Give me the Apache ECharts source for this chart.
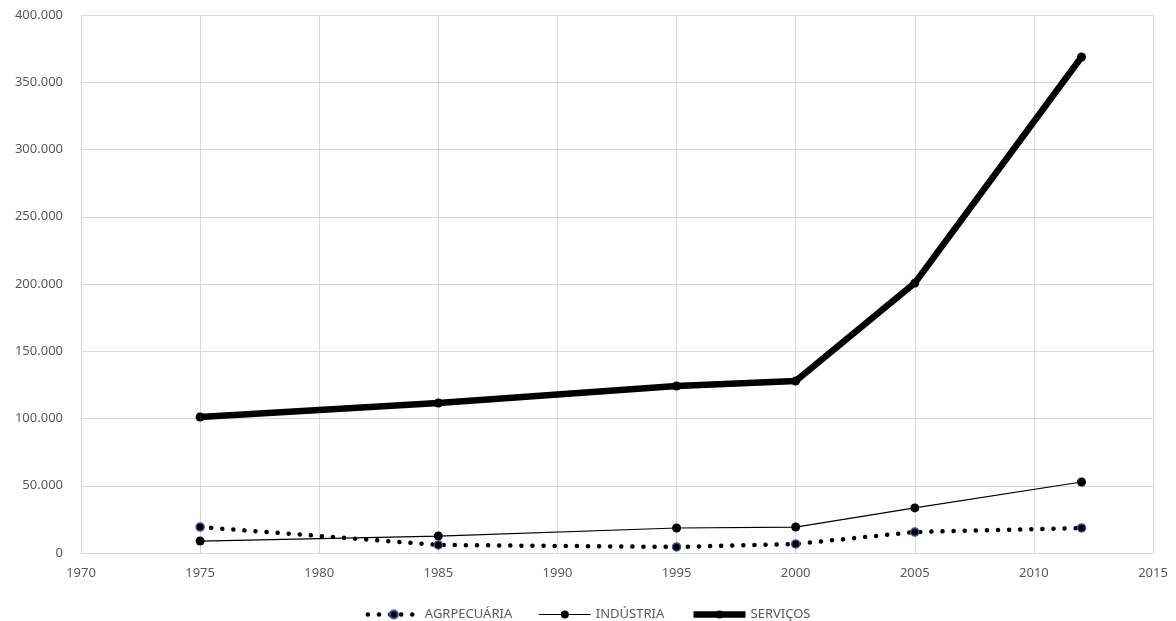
<!DOCTYPE html>
<html lang="pt-BR">
<head>
    <meta charset="UTF-8">
    <title>Setores</title>
    <script src="https://cdn.jsdelivr.net/npm/echarts@6/dist/echarts.min.js"></script>
    <style>
        html, body { margin: 0; padding: 0; background: #fff; }
    </style>
</head>
<body>
    <div id="main" style="width:1176px;height:621px;"></div>
    <script>
    // anos e valores
    var anos = [1975, 1985, 1995, 2000, 2005, 2012];
    var agropecuaria = [19300, 6000, 4500, 6700, 15600, 18600];
    var industria = [8900, 12600, 18600, 19300, 33500, 52800];
    var servicos = [101100, 111500, 124200, 127900, 200700, 368800];

    var cinza = '#595959';
    var grade = '#d9d9d9';
    var fonte = 'Noto Sans, Open Sans, sans-serif';

    function pares(vals) {
        return anos.map(function (a, i) { return [a, vals[i]]; });
    }

    function fmtMilhar(v) {
        if (v === 0) return '0';
        return Math.round(v).toString().replace(/\B(?=(\d{3})+(?!\d))/g, '.');
    }

    // linha pontilhada de pontos redondos
    var pontilhado = { color: '#000', width: 4.5, type: [0.1, 11], cap: 'round' };

    var myChart = echarts.init(document.getElementById('main'));

    var option = {
        backgroundColor: '#fff',
        animation: false,
        textStyle: { fontFamily: fonte },
        grid: { left: 81, right: 23, top: 15, bottom: 68 },
        legend: {
            bottom: 0,
            padding: 0,
            left: 'center',
            itemWidth: 52,
            itemHeight: 10,
            itemGap: 26,
            textStyle: { color: cinza, fontSize: 13, fontFamily: fonte },
            data: [
                { name: 'AGRPECUÁRIA', lineStyle: pontilhado },
                { name: 'INDÚSTRIA', lineStyle: { width: 1.2, color: '#000' } },
                { name: 'SERVIÇOS', lineStyle: { width: 6.5, color: '#000' } }
            ]
        },
        xAxis: {
            type: 'value',
            min: 1970,
            max: 2015,
            interval: 5,
            axisLine: { show: true, lineStyle: { color: grade } },
            axisTick: { show: false },
            splitLine: { show: true, lineStyle: { color: grade } },
            axisLabel: { color: cinza, fontSize: 13, margin: 14, formatter: function (v) { return String(v); } }
        },
        yAxis: {
            type: 'value',
            min: 0,
            max: 400000,
            interval: 50000,
            axisLine: { show: true, lineStyle: { color: grade } },
            axisTick: { show: false },
            splitLine: { show: true, lineStyle: { color: grade } },
            axisLabel: { color: cinza, fontSize: 13, margin: 18, formatter: fmtMilhar }
        },
        series: [
            {
                name: 'AGRPECUÁRIA',
                type: 'line',
                data: pares(agropecuaria),
                symbol: 'circle',
                symbolSize: 8,
                itemStyle: { color: '#000', borderColor: '#2f5597', borderWidth: 1.5 },
                lineStyle: pontilhado,
                z: 3
            },
            {
                name: 'INDÚSTRIA',
                type: 'line',
                data: pares(industria),
                symbol: 'circle',
                symbolSize: 9,
                itemStyle: { color: '#000' },
                lineStyle: { color: '#000', width: 1.2 },
                z: 2
            },
            {
                name: 'SERVIÇOS',
                type: 'line',
                data: pares(servicos),
                symbol: 'circle',
                symbolSize: 9,
                itemStyle: { color: '#000' },
                lineStyle: { color: '#000', width: 6.5 },
                z: 4
            }
        ]
    };

    myChart.setOption(option);
    </script>
</body>
</html>
